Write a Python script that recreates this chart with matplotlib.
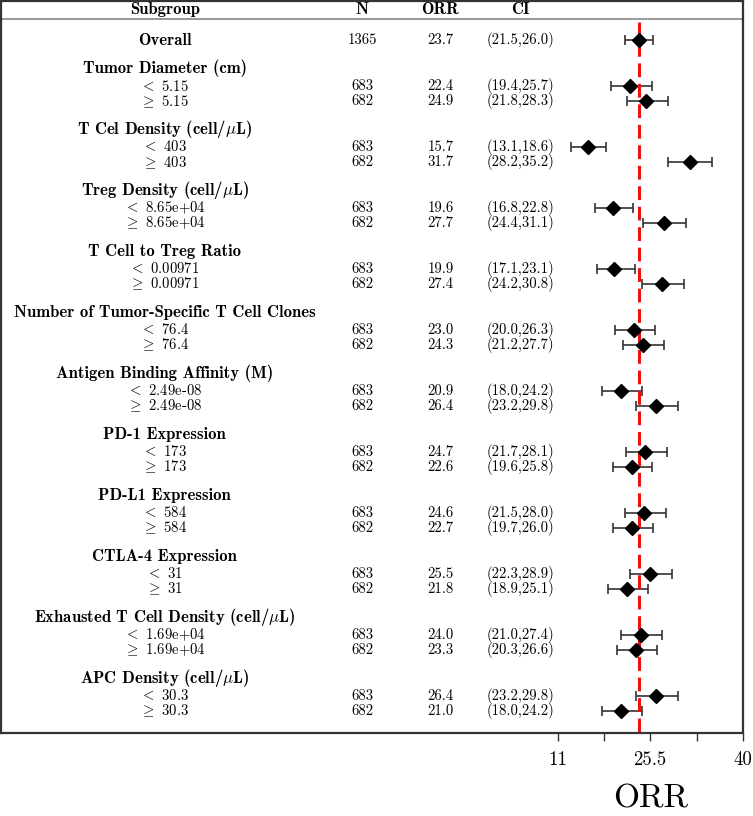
import matplotlib
matplotlib.use("Agg")
import matplotlib.pyplot as plt

plt.rcParams['font.family'] = 'serif'
plt.rcParams['font.serif'] = ['cmr10']
plt.rcParams['mathtext.fontset'] = 'cm'
plt.rcParams['axes.unicode_minus'] = False

# ---------------- data ----------------
overall_n = 1365
overall_orr = 23.7
overall_ci = (21.5, 26.0)

group_names = [
    "Tumor Diameter (cm)",
    r"T Cel Density (cell/$\mu$L)",
    r"Treg Density (cell/$\mu$L)",
    "T Cell to Treg Ratio",
    "Number of Tumor-Specific T Cell Clones",
    "Antigen Binding Affinity (M)",
    "PD-1 Expression",
    "PD-L1 Expression",
    "CTLA-4 Expression",
    r"Exhausted T Cell Density (cell/$\mu$L)",
    r"APC Density (cell/$\mu$L)",
]
cutoffs = ["5.15", "403", "8.65e+04", "0.00971", "76.4", "2.49e-08",
           "173", "584", "31", "1.69e+04", "30.3"]
n_low = [683] * 11
n_high = [682] * 11
orr_low = [22.4, 15.7, 19.6, 19.9, 23.0, 20.9, 24.7, 24.6, 25.5, 24.0, 26.4]
orr_high = [24.9, 31.7, 27.7, 27.4, 24.3, 26.4, 22.6, 22.7, 21.8, 23.3, 21.0]
ci_low_lo = [19.4, 13.1, 16.8, 17.1, 20.0, 18.0, 21.7, 21.5, 22.3, 21.0, 23.2]
ci_low_hi = [25.7, 18.6, 22.8, 23.1, 26.3, 24.2, 28.1, 28.0, 28.9, 27.4, 29.8]
ci_high_lo = [21.8, 28.2, 24.4, 24.2, 21.2, 23.2, 19.6, 19.7, 18.9, 20.3, 18.0]
ci_high_hi = [28.3, 35.2, 31.1, 30.8, 27.7, 29.8, 25.8, 26.0, 25.1, 26.6, 24.2]

headers = ["Subgroup", "N", "ORR", "CI"]
xtick_vals = [11, 18.25, 25.5, 32.75, 40]
xtick_labels = ["11", "", "25.5", "", "40"]

# ---------------- layout ----------------
W, H = 753, 816
fig = plt.figure(figsize=(W / 100, H / 100), dpi=100)
ax = fig.add_axes([1 / W, 1 - 733 / H, 742 / W, 732.5 / H])

XMIN, XMAX = -76.0, 40.0
YTOP, YBOT = -2.61, 45.45
ax.set_xlim(XMIN, XMAX)
ax.set_ylim(YBOT, YTOP)

col_sub, col_n, col_orr, col_ci = -50.4, -19.5, -7.3, 5.2
fs = 10.6
fsb = 12.0

bold = dict(family='cmb10', fontsize=fsb)

# header
for x, h in zip([col_sub, col_n, col_orr, col_ci], headers):
    ax.text(x, -2, h, ha='center', va='center', **bold)
ax.axhline(-1.4, color='#888888', lw=1.2)

err_kw = dict(fmt='none', ecolor='#333333', elinewidth=1.2, capsize=3.6, capthick=1.2)
mk_kw = dict(marker='D', color='black', markersize=7.6, linestyle='none', zorder=5)


def row(y, label, n, orr, lo, hi, label_bold=False):
    if label_bold:
        ax.text(col_sub, y, label, ha='center', va='center', **bold)
    else:
        ax.text(col_sub, y, label, ha='center', va='center', fontsize=fs)
    ax.text(col_n, y, f"{n}", ha='center', va='center', fontsize=fs)
    ax.text(col_orr, y, f"{orr:.1f}", ha='center', va='center', fontsize=fs)
    ax.text(col_ci, y, f"({lo:.1f},{hi:.1f})", ha='center', va='center', fontsize=fs)
    ax.errorbar([orr], [y], xerr=[[orr - lo], [hi - orr]], **err_kw)
    ax.plot([orr], [y], **mk_kw)


row(0, "Overall", overall_n, overall_orr, overall_ci[0], overall_ci[1], label_bold=True)

for g, name in enumerate(group_names):
    yh = 2 + 4 * g
    ax.text(col_sub, yh - 0.15, name, ha='center', va='center', **bold)
    row(yh + 1, r"$<$ " + cutoffs[g], n_low[g], orr_low[g], ci_low_lo[g], ci_low_hi[g])
    row(yh + 2, r"$\geq$ " + cutoffs[g], n_high[g], orr_high[g], ci_high_lo[g], ci_high_hi[g])

# reference line
ax.plot([overall_orr, overall_orr], [-1.2, YBOT], color='#ee1111', lw=2.2,
        linestyle=(0, (4.5, 2.2)), zorder=4)

# axes styling
for s in ax.spines.values():
    s.set_color('#333333')
    s.set_linewidth(1.6)
ax.set_yticks([])
ax.set_xticks(xtick_vals)
ax.set_xticklabels(xtick_labels, fontsize=13.5)
ax.tick_params(axis='x', direction='out', length=6, width=1, color='#333333', pad=7)
ax.set_xlabel("ORR", fontsize=24, labelpad=11)
ax.xaxis.label.set_x((25.5 - XMIN) / (XMAX - XMIN))

fig.savefig("out.png", dpi=100)
